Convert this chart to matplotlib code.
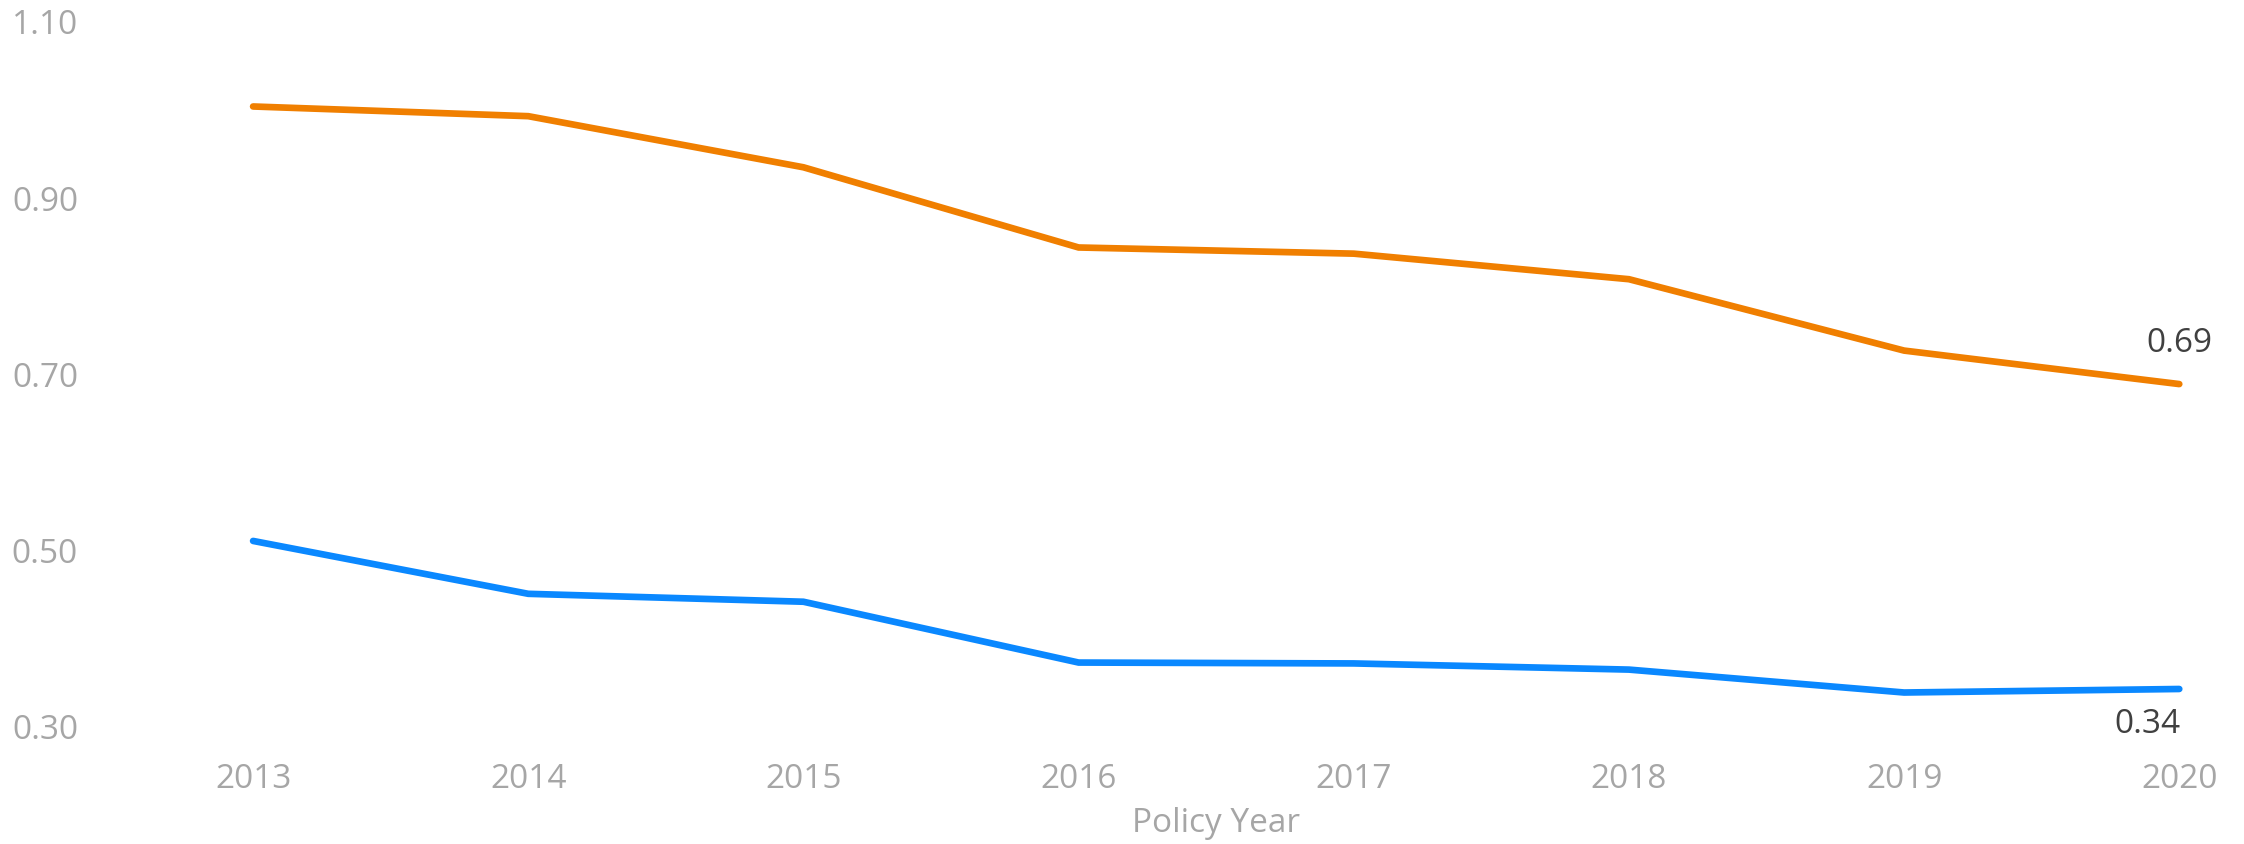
import matplotlib
matplotlib.use("Agg")
import matplotlib.pyplot as plt

years = [2013, 2014, 2015, 2016, 2017, 2018, 2019, 2020]
orange_vals = [1.003, 0.992, 0.934, 0.843, 0.836, 0.807, 0.726, 0.688]
blue_vals = [0.510, 0.450, 0.441, 0.372, 0.371, 0.364, 0.338, 0.342]
yticks = [0.30, 0.50, 0.70, 0.90, 1.10]
x_label = "Policy Year"

plt.rcParams['font.family'] = ['Open Sans', 'DejaVu Sans']

W, H = 2244, 845
fig = plt.figure(figsize=(W / 100, H / 100), dpi=100)
left_px, right_px = 115.5, W
top_px, bottom_px = 22, 727
ax = fig.add_axes([left_px / W, 1 - bottom_px / H,
                   (right_px - left_px) / W, (bottom_px - top_px) / H])

step_px = 275.17
ax.set_xlim(2012.5, 2012.5 + (right_px - left_px) / step_px)
ax.set_ylim(0.30, 1.10)

orange = '#F07F00'
blue = '#0A88FF'
ax.plot(years, orange_vals, color=orange, lw=4.8, solid_capstyle='round',
        solid_joinstyle='miter', clip_on=False)
ax.plot(years, blue_vals, color=blue, lw=4.8, solid_capstyle='round',
        solid_joinstyle='miter', clip_on=False)

fs = 24
ax.annotate(f"{orange_vals[-1]:.2f}", (years[-1], orange_vals[-1]),
            xytext=(0, 30), textcoords='offset points', ha='center', va='center',
            fontsize=fs, color='#404040')
ax.annotate(f"{blue_vals[-1]:.2f}", (years[-1], blue_vals[-1]),
            xytext=(1, -25), textcoords='offset points', ha='right', va='center',
            fontsize=fs, color='#404040')

ax.set_xticks(years)
ax.set_xticklabels([str(y) for y in years])
ax.set_yticks(yticks)
ax.set_yticklabels([f"{v:.2f}" for v in yticks])
ax.tick_params(axis='x', length=0, pad=26, labelsize=fs, labelcolor='#A6A6A6')
ax.tick_params(axis='y', length=0, pad=27, labelsize=fs, labelcolor='#A6A6A6')
for s in ax.spines.values():
    s.set_visible(False)

ax.set_xlabel(x_label, fontsize=fs, color='#A6A6A6')
ax.xaxis.set_label_coords((1216 - left_px) / (right_px - left_px), -(824 - bottom_px) / (bottom_px - top_px))
ax.xaxis.label.set_va('center')

fig.savefig("out.png", dpi=100, facecolor='white')
